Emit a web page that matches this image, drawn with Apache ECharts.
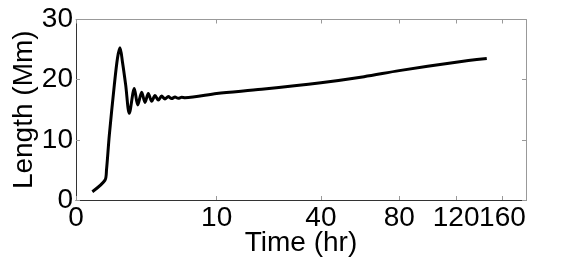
<!DOCTYPE html>
<html>
<head>
<meta charset="utf-8">
<script src="https://cdn.jsdelivr.net/npm/echarts@6/dist/echarts.min.js"></script>
<style>
  html, body { margin: 0; padding: 0; background: #fff; }
  #chart { width: 581px; height: 259px; }
</style>
</head>
<body>
<div id="chart"></div>
<script>
// time in hours, length in Mm
const timeHr = [0.046, 0.193, 0.219, 0.273, 0.387, 0.473, 0.547, 0.628, 0.742, 0.884,
  1.106, 1.275, 1.49, 1.685, 1.894, 2.125, 2.365, 2.62, 2.89, 3.18, 3.487, 3.807,
  4.156, 4.51, 4.885, 5.28, 10, 20, 40, 60, 80, 120, 145.7];
const lengthMm = [1.38, 3.3, 5.0, 10.8, 19.1, 23.6, 25.3, 22.9, 19.1, 14.4,
  18.55, 15.8, 17.9, 16.2, 17.7, 16.4, 17.35, 16.6, 17.27, 16.78, 17.19, 16.86,
  17.1, 16.9, 17.06, 17.0, 17.7, 18.4, 19.5, 20.5, 21.5, 22.9, 23.5];
const xTicks = [0, 10, 40, 80, 120, 160];
const yTicks = [0, 10, 20, 30];

// x axis is drawn on a t^0.4 scale
const fwd = t => Math.pow(t, 0.4);
const inv = u => Math.pow(u, 2.5);
const xMax = fwd(183);

const chart = echarts.init(document.getElementById('chart'));
const font = 'Liberation Sans, Arial, Helvetica, sans-serif';
const tickStyle = { show: true, inside: true, length: 4, lineStyle: { color: '#999' } };
const xLabel = vals => ({
  customValues: vals.map(fwd), hideOverlap: false,
  formatter: v => String(Math.round(inv(v))),
  fontFamily: font, fontSize: 28, color: '#000', margin: 4
});

chart.setOption({
  animation: false,
  grid: { left: 76, right: 55, top: 19.5, bottom: 59, outerBoundsMode: 'none', containLabel: false },
  xAxis: [{
    type: 'value', min: 0, max: xMax,
    name: 'Time (hr)', nameLocation: 'middle', nameGap: 29, nameMoveOverlap: false,
    nameTextStyle: { fontFamily: font, fontSize: 28, color: '#000' },
    axisLine: { onZero: false, lineStyle: { color: '#333' } },
    axisTick: Object.assign({ customValues: xTicks.map(fwd) }, tickStyle),
    axisLabel: xLabel(xTicks.slice(0, -1)),
    splitLine: { show: false }
  }, {
    // last tick label sits right against 120, so it gets its own axis
    type: 'value', min: 0, max: xMax, position: 'bottom',
    axisLine: { show: false, onZero: false },
    axisTick: { show: false },
    axisLabel: xLabel(xTicks.slice(-1)),
    splitLine: { show: false }
  }, {
    type: 'value', min: 0, max: xMax, position: 'top',
    axisLine: { show: true, onZero: false, lineStyle: { color: '#999' } },
    axisTick: Object.assign({ customValues: xTicks.map(fwd) }, tickStyle),
    axisLabel: { show: false }, splitLine: { show: false }
  }],
  yAxis: [{
    type: 'value', min: 0, max: 30, interval: 10,
    name: 'Length (Mm)', nameLocation: 'middle', nameGap: 38, nameMoveOverlap: false,
    nameTextStyle: { fontFamily: font, fontSize: 28, color: '#000' },
    axisLine: { show: true, onZero: false, lineStyle: { color: '#333' } },
    axisTick: tickStyle,
    axisLabel: { fontFamily: font, fontSize: 28, color: '#000', margin: 3, hideOverlap: false,
      formatter: v => yTicks.includes(v) ? String(v) : '' },
    splitLine: { show: false }
  }, {
    type: 'value', min: 0, max: 30, interval: 10, position: 'right',
    axisLine: { show: true, onZero: false, lineStyle: { color: '#999' } },
    axisTick: tickStyle,
    axisLabel: { show: false }, splitLine: { show: false }
  }],
  series: [{
    type: 'line',
    data: timeHr.map((t, i) => [fwd(t), lengthMm[i]]),
    smooth: 0.3,
    symbol: 'none',
    lineStyle: { color: '#000', width: 3 }
  }]
});
</script>
</body>
</html>
